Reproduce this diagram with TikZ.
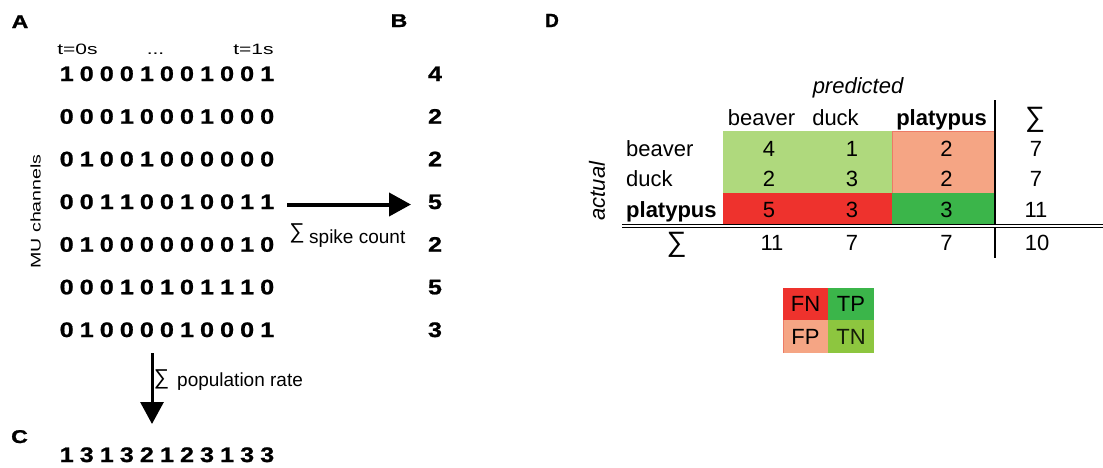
\documentclass[tikz,border=0pt]{standalone}
\usepackage{fontspec}
\setmainfont{Liberation Sans}
\newfontfamily\widesf[FakeStretch=1.2,BoldFeatures={FakeBold=1}]{Liberation Sans}
\newfontfamily\heavysf[BoldFeatures={FakeBold=1}]{Liberation Sans}
\usetikzlibrary{arrows.meta}

\definecolor{cellok}{HTML}{AFD97D}
\definecolor{cellfp}{HTML}{F5A584}
\definecolor{cellfpedge}{HTML}{EC7B66}
\definecolor{cellfn}{HTML}{EE322D}
\definecolor{celltp}{HTML}{3BB54A}
\definecolor{celltn}{HTML}{8DC63F}

\newcommand\widen[2]{\scalebox{#1}[1]{#2}}

\tikzset{
  panel/.style={anchor=base, inner sep=0pt, font=\heavysf\bfseries\fontsize{18.5}{20}\selectfont},
  panelD/.style={anchor=base, inner sep=0pt, font=\heavysf\bfseries\fontsize{19}{22}\selectfont},
  bit/.style={anchor=base, inner sep=0pt, font=\widesf\bfseries\fontsize{21}{24}\selectfont},
  timelbl/.style={anchor=base, inner sep=0pt, font=\fontsize{15}{18}\selectfont},
  sumlbl/.style={anchor=base west, inner sep=0pt, font=\fontsize{19}{22}\selectfont},
  sigma/.style={inner sep=0pt, font=\fontsize{21.5}{24}\selectfont},
  bigsigma/.style={inner sep=0pt, font=\fontsize{28}{30}\selectfont},
  tbl/.style={anchor=base, inner sep=0pt, font=\fontsize{22}{26}\selectfont},
  rowlbl/.style={anchor=base west, inner sep=0pt, font=\fontsize{22}{26}\selectfont},
  legend/.style={inner sep=0pt, font=\fontsize{22}{26}\selectfont},
  bigarrow/.style={-{Triangle[length=22pt,width=23pt]}},
}

\begin{document}
\begin{tikzpicture}[x=1pt,y=-1pt]
\useasboundingbox (0,0) rectangle (1103,467);

% ---------- panel labels ----------
\node[panel] (lblA) at (20,28) {\widen{1.25}{A}};
\node[panel] (lblB) at (399,27) {\widen{1.25}{B}};
\node[panel] (lblC) at (19.5,443) {\widen{1.25}{C}};
\node[panelD] (lblD) at (552,27) {D};

% ---------- time axis ----------
\node[timelbl] (t0) at (77.5,54) {\widen{1.4}{t=0s}};
\node[timelbl] (tdots) at (155.5,54) {\widen{1.4}{...}};
\node[timelbl] (t1) at (253.5,54) {\widen{1.4}{t=1s}};

% ---------- channel axis ----------
\node[inner sep=0pt, rotate=90, font=\fontsize{14}{16}\selectfont] (mu) at (35.5,211.5)
  {\widen{1.4}{MU channels}};

% ---------- spike trains (A) and spike counts (B) ----------
\foreach \r/\y/\bits/\cnt in {
  1/81/{1,0,0,0,1,0,0,1,0,0,1}/4,
  2/123.7/{0,0,0,1,0,0,0,1,0,0,0}/2,
  3/166.3/{0,1,0,0,1,0,0,0,0,0,0}/2,
  4/209/{0,0,1,1,0,0,1,0,0,1,1}/5,
  5/251.7/{0,1,0,0,0,0,0,0,0,1,0}/2,
  6/294.3/{0,0,0,1,0,1,0,1,1,1,0}/5,
  7/337/{0,1,0,0,0,0,1,0,0,0,1}/3} {
  \foreach \b [count=\c from 0] in \bits {
    \node[bit] (r\r-\c) at ({66.7+20.05*\c},\y) {\b};
  }
  \node[bit] (cnt\r) at (435,\y) {\cnt};
}

% ---------- population rate (C) ----------
\foreach \b [count=\c from 0] in {1,3,1,3,2,1,2,3,1,3,3} {
  \node[bit] (pop-\c) at ({66.7+20.05*\c},462) {\b};
}

% ---------- summation arrows ----------
\coordinate (hstart) at (287,204.5);
\coordinate (hend) at (411,204.5);
\draw[bigarrow, line width=4pt] (hstart) -- (hend);
\node[sigma] (sig1) at (297,233) {∑};
\node[sumlbl] (spk) at (309,243) {spike count};

\coordinate (vstart) at (152,353);
\coordinate (vend) at (152,424);
\draw[bigarrow, line width=3pt] (vstart) -- (vend);
\node[sigma] (sig2) at (161.5,379.5) {∑};
\node[sumlbl] (poprate) at (177,386.7) {population rate};

% ---------- confusion matrix (D) ----------
\fill[cellok] (723,131) rectangle (892,193);
\fill[cellfp] (892,131) rectangle (994,193);
\draw[cellfpedge, line width=0.8pt] (892.4,193) -- (892.4,131.4) -- (994,131.4);
\fill[cellfn] (723,193) rectangle (892,224);
\fill[celltp] (892,193) rectangle (994,224);

\node[tbl, font=\itshape\fontsize{22}{26}\selectfont] (pred) at (858,93) {predicted};
\node[inner sep=0pt, rotate=90, font=\itshape\fontsize{22}{26}\selectfont] (act) at (597,191) {actual};

\node[tbl] (hbeaver) at (761.5,125) {beaver};
\node[tbl] (hduck) at (835.5,125) {duck};
\node[tbl, font=\bfseries\fontsize{22}{26}\selectfont] (hplat) at (941.5,125) {platypus};
\node[bigsigma] (hsum) at (1035,120) {∑};

\node[rowlbl] (lbeaver) at (626,156) {beaver};
\node[rowlbl] (lduck) at (626,186.7) {duck};
\node[rowlbl, font=\bfseries\fontsize{22}{26}\selectfont] (lplat) at (626,217.3) {platypus};

\foreach \rr/\y/\a/\b/\c/\s in {1/156/4/1/2/7, 2/186.7/2/3/2/7, 3/217.3/5/3/3/11} {
  \node[tbl] (m\rr-1) at (769,\y) {\a};
  \node[tbl] (m\rr-2) at (852,\y) {\b};
  \node[tbl] (m\rr-3) at (946.5,\y) {\c};
  \node[tbl] (ms\rr) at (1036,\y) {\s};
}

\node[bigsigma] (ssig) at (676.5,245) {∑};
\node[tbl] (s1) at (772,250.7) {11};
\node[tbl] (s2) at (852,250.7) {7};
\node[tbl] (s3) at (946.5,250.7) {7};
\node[tbl] (stot) at (1037,250.7) {10};

\coordinate (vtop) at (995,100);
\coordinate (vbot) at (995,258);
\draw[line width=2.8pt] (vtop) -- (vbot);
\coordinate (dl) at (622,226);
\coordinate (dr) at (1103,226);
\draw[double, line width=1.3pt, double distance=1.8pt] (dl) -- (dr);

% ---------- legend ----------
\fill[cellfn] (783,288) rectangle (828,320);
\fill[celltp] (828,288) rectangle (874,320);
\fill[cellfp] (783,320) rectangle (828,353);
\draw[cellfpedge, line width=0.8pt] (783.4,353) -- (783.4,320);
\fill[celltn] (828,320) rectangle (874,353);
\node[legend] (fn) at (805.5,304) {FN};
\node[legend] (tp) at (851,304) {TP};
\node[legend] (fp) at (805.5,336.5) {FP};
\node[legend, text=black!85!celltn] (tn) at (851,336.5) {TN};
\end{tikzpicture}
\end{document}
